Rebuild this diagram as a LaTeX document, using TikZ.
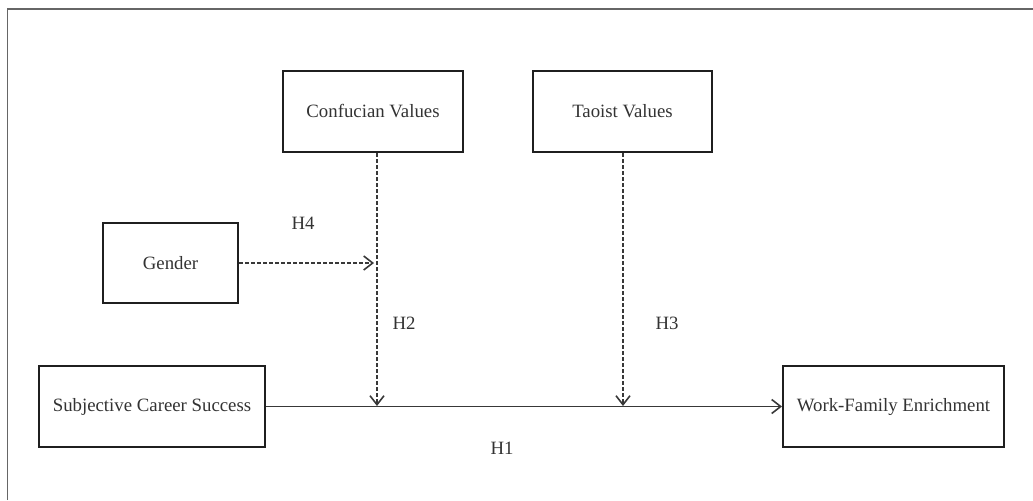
\documentclass[tikz,border=0pt]{standalone}
\usepackage{fontspec}
\setmainfont{Liberation Serif}
\usetikzlibrary{arrows.meta,positioning}

\begin{document}
\begin{tikzpicture}[x=0.5pt,y=-0.5pt,>={Straight Barb[length=4.5pt,width=7pt]},
        font=\fontsize{9.4}{11}\selectfont, text=black!80,
        var node/.style={rectangle,draw=black!88,line width=1pt,inner sep=0pt,minimum height=40.5pt},
        link/.style={->,draw=black!78,line width=0.8pt},
        dash link/.style={link,dash pattern=on 2pt off 1pt},
        hyp/.style={inner sep=0pt}]

\useasboundingbox (0,0) rectangle (1033,500);
% frame
\draw[black!60,line width=0.6pt] (7.5,500) -- (7.5,9) -- (1033,9);

\node (Conf) [var node,minimum width=90pt] at (373,111.5) {Confucian Values};
\node (Tao) [var node,minimum width=89.5pt] at (622.5,111.5) {Taoist Values};
\node (Gender) [var node,minimum width=67.5pt,minimum height=40pt] at (170.5,263) {Gender};
\node (SCS) [var node,minimum width=113pt] at (152,406.5) {Subjective Career Success};
\node (WFE) [var node,minimum width=110.5pt] at (893.5,406.5) {Work-Family Enrichment};

% points where the moderators meet
\coordinate (ModC) at (377,406);
\coordinate (ModT) at (623,406);
\coordinate (ModG) at (374,263);

\draw[link] (SCS) -- (WFE);
\draw[dash link] (Conf.south -| ModC) -- (ModC);
\draw[dash link] (Tao.south -| ModT) -- (ModT);
\draw[dash link] (Gender) -- (ModG);

\node (H1) [hyp] at (502,448) {H1};
\node (H2) [hyp] at (404,323) {H2};
\node (H3) [hyp] at (667,323) {H3};
\node (H4) [hyp] at (303,223) {H4};

\end{tikzpicture}
\end{document}
